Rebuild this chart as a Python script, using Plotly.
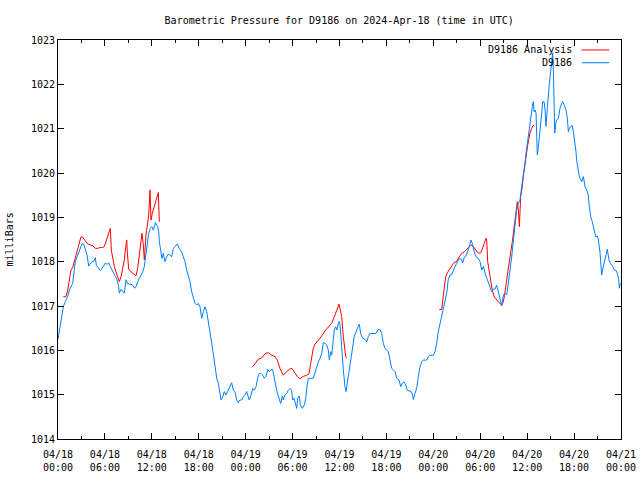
import pandas as pd
import plotly.graph_objects as go

# ---------------- data (hours since 2024-04-18 00:00 UTC, millibars) ----------------
start = pd.Timestamp("2024-04-18 00:00")

blue_hours = [
    0.00, 0.29, 0.51, 0.68, 0.93, 1.24, 1.45, 1.66, 1.88, 2.08, 2.21, 2.43, 2.65, 2.85, 3.07, 3.29,
    3.49, 3.71, 3.93, 4.13, 4.35, 4.57, 4.77, 4.90, 5.15, 5.41, 5.63, 5.84, 6.05, 6.27, 6.48, 6.69,
    6.91, 7.12, 7.33, 7.55, 7.76, 7.84, 8.06, 8.27, 8.48, 8.70, 8.91, 9.34, 9.55, 9.81, 9.98, 10.19,
    10.40, 10.61, 10.83, 11.04, 11.16, 11.34, 11.60, 11.80, 12.00, 12.20, 12.47, 12.75, 12.88, 12.96,
    13.13, 13.30, 13.47, 13.68, 13.90, 14.11, 14.32, 14.54, 14.75, 14.96, 15.26, 15.51, 15.82, 16.02,
    16.24, 16.46, 16.66, 16.88, 17.10, 17.30, 17.52, 17.74, 17.94, 18.16, 18.38, 18.58, 18.80, 19.02,
    19.22, 19.44, 19.66, 19.86, 20.08, 20.30, 20.50, 20.72, 20.85, 21.06, 21.27, 21.48, 21.70, 22.00,
    22.21, 22.42, 22.64, 22.85, 23.06, 23.28, 23.49, 23.70, 23.91, 24.13, 24.26, 24.46, 24.68, 24.90,
    25.10, 25.32, 25.54, 25.74, 25.96, 26.18, 26.38, 26.60, 26.82, 27.02, 27.24, 27.46, 27.62, 27.75,
    27.97, 28.17, 28.30, 28.48, 28.68, 28.81, 29.03, 29.25, 29.45, 29.67, 29.88, 30.01, 30.18, 30.40,
    30.53, 30.65, 30.86, 30.99, 31.24, 31.50, 31.68, 31.84, 32.01, 32.65, 32.87, 33.08, 33.29, 33.51,
    33.72, 33.93, 34.15, 34.36, 34.57, 34.70, 34.87, 35.00, 35.21, 35.34, 35.51, 35.68, 35.85, 35.98,
    36.10, 36.28, 36.49, 36.70, 36.83, 37.00, 37.22, 37.47, 37.69, 37.89, 38.20, 38.40, 38.53, 38.71,
    38.92, 39.26, 39.48, 39.69, 39.90, 40.67, 40.89, 41.18, 41.40, 41.60, 41.82, 42.04, 42.24, 42.46,
    42.68, 42.88, 43.10, 43.32, 43.61, 43.83, 44.03, 44.25, 44.47, 44.67, 44.93, 45.14, 45.36, 45.44,
    45.66, 45.87, 46.08, 46.30, 46.51, 46.72, 47.15, 47.36, 47.57, 48.00, 48.21, 48.43, 48.63, 48.85,
    49.07, 49.28, 49.49, 49.71, 49.91, 50.13, 50.35, 50.56, 50.77, 50.99, 51.19, 51.41, 51.63, 51.76,
    51.96, 52.18, 52.40, 52.60, 52.82, 53.04, 53.24, 53.46, 53.75, 53.97, 54.19, 54.40, 54.61, 54.83,
    55.03, 55.25, 55.47, 55.67, 55.89, 56.10, 56.31, 56.53, 56.75, 56.96, 57.17, 57.39, 57.59, 57.81,
    58.02, 58.23, 58.45, 58.66, 58.87, 59.08, 59.30, 59.50, 59.72, 59.85, 60.02, 60.14, 60.36, 60.49,
    60.66, 60.79, 60.88, 61.01, 61.14, 61.22, 61.30, 61.43, 61.56, 61.73, 61.86, 61.99, 62.16, 62.29,
    62.41, 62.58, 62.71, 62.84, 63.01, 63.14, 63.27, 63.35, 63.44, 63.53, 63.65, 63.78, 63.99, 64.20,
    64.42, 64.54, 64.75, 64.97, 65.14, 65.27, 65.40, 65.58, 65.74, 65.91, 66.04, 66.22, 66.35, 66.47,
    66.64, 66.76, 66.98, 67.19, 67.40, 67.62, 67.82, 67.95, 68.13, 68.33, 68.55, 68.77, 68.97, 69.10,
    69.31, 69.44, 69.53, 69.66, 69.82, 70.04, 70.25, 70.46, 70.68, 70.94, 71.14, 71.36, 71.53, 71.71,
    71.79, 71.92,
]
blue_mbar = [
    1016.25, 1016.57, 1016.84, 1016.98, 1017.10, 1017.21, 1017.36, 1017.42, 1017.51, 1017.81, 1018.00, 1018.11, 1018.22, 1018.34, 1018.40, 1018.40,
    1018.30, 1018.15, 1017.90, 1017.96, 1018.00, 1018.00, 1018.09, 1017.92, 1017.87, 1017.80, 1017.85, 1017.92, 1017.97, 1017.94, 1017.97, 1017.89,
    1017.81, 1017.72, 1017.66, 1017.59, 1017.44, 1017.29, 1017.38, 1017.34, 1017.29, 1017.59, 1017.50, 1017.49, 1017.47, 1017.40, 1017.44, 1017.55,
    1017.62, 1017.70, 1017.77, 1017.89, 1018.07, 1018.34, 1018.64, 1018.75, 1018.79, 1018.71, 1018.88, 1018.79, 1018.68, 1018.45,
    1018.22, 1018.07, 1018.19, 1018.00, 1018.11, 1018.17, 1018.15, 1018.11, 1018.30, 1018.34, 1018.40, 1018.30, 1018.22, 1018.11,
    1018.00, 1017.81, 1017.70, 1017.55, 1017.32, 1017.17, 1017.06, 1017.02, 1017.06, 1016.98, 1016.72, 1016.87, 1016.98, 1016.87,
    1016.61, 1016.38, 1016.16, 1015.93, 1015.63, 1015.37, 1015.26, 1015.07, 1014.88, 1014.95, 1015.07, 1014.99, 1015.07, 1015.18,
    1015.27, 1015.10, 1015.07, 1014.88, 1014.82, 1014.88, 1014.88, 1014.95, 1014.99, 1015.07, 1014.99, 1014.88, 1014.99, 1015.14,
    1015.10, 1015.18, 1015.37, 1015.48, 1015.48, 1015.44, 1015.37, 1015.41, 1015.57, 1015.52, 1015.56, 1015.57, 1015.41, 1015.26,
    1015.10, 1014.97, 1014.88, 1014.80, 1014.97, 1014.88, 1014.99, 1015.03, 1015.10, 1015.14, 1015.10, 1014.88, 1014.92, 1014.80,
    1014.69, 1014.92, 1014.97, 1014.77, 1014.69, 1014.77, 1014.92, 1015.18, 1015.37, 1015.37, 1015.52, 1015.63, 1015.74, 1015.82,
    1015.93, 1016.17, 1016.16, 1016.12, 1016.01, 1015.78, 1015.97, 1015.89, 1016.23, 1016.46, 1016.53, 1016.46, 1016.61, 1016.65,
    1016.53, 1015.97, 1015.56, 1015.18, 1015.07, 1015.26, 1015.52, 1015.86, 1016.12, 1016.31, 1016.46, 1016.53, 1016.59, 1016.38,
    1016.28, 1016.25, 1016.19, 1016.31, 1016.38, 1016.38, 1016.46, 1016.47, 1016.38, 1016.16, 1016.04, 1016.01, 1015.97, 1015.78,
    1015.59, 1015.56, 1015.52, 1015.37, 1015.33, 1015.18, 1015.26, 1015.29, 1015.22, 1015.10, 1015.09, 1015.07, 1014.99, 1014.89,
    1015.03, 1015.14, 1015.41, 1015.63, 1015.74, 1015.78, 1015.78, 1015.86, 1015.89, 1015.89, 1015.97, 1016.16, 1016.42, 1016.61,
    1016.72, 1016.91, 1017.10, 1017.29, 1017.60, 1017.70, 1017.71, 1017.81, 1017.89, 1017.96, 1018.04, 1018.07, 1018.04, 1017.97,
    1018.10, 1018.13, 1018.22, 1018.34, 1018.49, 1018.38, 1018.22, 1018.11, 1018.07, 1018.00, 1017.81, 1017.89, 1017.74, 1017.62,
    1017.55, 1017.44, 1017.32, 1017.38, 1017.38, 1017.47, 1017.32, 1017.13, 1017.00, 1017.25, 1017.29, 1017.25, 1017.47, 1017.81,
    1018.11, 1018.49, 1018.79, 1019.17, 1019.32, 1019.39, 1019.69, 1019.92, 1020.22, 1020.44, 1020.67, 1020.90, 1021.12, 1021.31,
    1021.50, 1021.61, 1021.38, 1021.42, 1021.35, 1020.82, 1020.41, 1020.59, 1020.78, 1021.08, 1021.35, 1021.61, 1021.61, 1021.42,
    1021.05, 1021.46, 1021.80, 1022.02, 1022.29, 1022.59, 1022.71, 1022.32, 1021.50, 1020.90, 1021.12, 1021.20, 1021.23, 1021.46,
    1021.57, 1021.61, 1021.53, 1021.42, 1021.23, 1020.93, 1021.01, 1021.05, 1021.08, 1020.93, 1020.78, 1020.52, 1020.26, 1020.07,
    1019.95, 1019.88, 1019.80, 1019.92, 1019.69, 1019.62, 1019.50, 1019.24, 1019.01, 1018.90, 1018.71, 1018.56, 1018.58, 1018.49,
    1018.22, 1017.89, 1017.70, 1017.83, 1017.96, 1018.15, 1018.28, 1018.04, 1017.95, 1017.90, 1017.81, 1017.80, 1017.74, 1017.59,
    1017.40, 1017.51,
]

# analysis series: three separate runs (None marks a gap)
red_hours = [
    0.68, 1.02, 1.24, 1.45, 1.66, 1.88, 2.08, 2.30, 2.52, 2.72, 2.94, 3.16, 3.36, 3.58, 3.80, 4.22,
    4.44, 4.77, 5.08, 5.41, 5.72, 5.92, 6.14, 6.36, 6.56, 6.69, 6.82, 7.00, 7.20, 7.42, 7.64, 7.84,
    8.06, 8.27, 8.48, 8.61, 8.79, 8.86, 9.04, 9.34, 9.55, 9.76, 9.98, 10.19, 10.40, 10.61, 10.74, 10.91,
    11.04, 11.25, 11.47, 11.60, 11.77, 11.89, 12.06, 12.28, 12.50, 12.71, 12.83, 12.96,
    None,
    24.85, 25.19, 25.62, 26.05, 26.47, 26.90, 27.33, 27.75, 28.05, 28.39, 28.81, 29.25, 29.67, 29.93,
    30.31, 30.60, 30.95, 31.37, 31.81, 32.10, 32.32, 32.65, 32.87, 33.29, 33.72, 34.15, 34.57, 35.00,
    35.30, 35.64, 35.94, 36.06, 36.28, 36.49, 36.62, 36.79, 36.92,
    None,
    48.76, 49.07, 49.20, 49.37, 49.58, 49.79, 50.04, 50.35, 50.64, 50.99, 51.32, 51.63, 51.96, 52.27,
    52.60, 52.82, 53.11, 53.46, 53.75, 54.06, 54.31, 54.52, 54.74, 54.83, 54.95, 55.16, 55.34, 55.54,
    55.80, 56.10, 56.44, 56.75, 56.96, 57.09, 57.30, 57.46, 57.68, 57.90, 58.10, 58.32, 58.45, 58.57,
    58.74, 58.87, 59.00, 59.17, 59.38, 59.50, 59.63, 59.81, 59.94, 60.07, 60.23, 60.36, 60.58, 60.71,
    60.88,
]
red_mbar = [
    1017.21, 1017.21, 1017.36, 1017.55, 1017.81, 1017.87, 1018.00, 1018.15, 1018.30, 1018.45, 1018.56, 1018.55, 1018.49, 1018.45, 1018.40, 1018.38,
    1018.36, 1018.30, 1018.30, 1018.32, 1018.32, 1018.34, 1018.45, 1018.60, 1018.71, 1018.75, 1018.26, 1018.04, 1017.89, 1017.77, 1017.66, 1017.55,
    1017.66, 1017.85, 1018.04, 1018.26, 1018.49, 1018.22, 1017.83, 1017.77, 1017.74, 1017.70, 1017.68, 1017.85, 1018.19, 1018.41, 1018.64, 1018.38,
    1018.04, 1018.60, 1018.83, 1019.05, 1019.62, 1018.94, 1019.09, 1019.24, 1019.39, 1019.50, 1019.56, 1018.90,
    None,
    1015.62, 1015.71, 1015.80, 1015.83, 1015.92, 1015.95, 1015.89, 1015.86, 1015.78, 1015.59, 1015.44, 1015.52, 1015.58, 1015.59,
    1015.49, 1015.41, 1015.36, 1015.41, 1015.44, 1015.47, 1015.71, 1016.05, 1016.14, 1016.23, 1016.32, 1016.44, 1016.52, 1016.61,
    1016.74, 1016.91, 1017.04, 1016.95, 1016.76, 1016.31, 1016.08, 1015.86, 1015.82,
    None,
    1016.92, 1016.92, 1017.13, 1017.32, 1017.66, 1017.75, 1017.83, 1017.90, 1017.98, 1018.00, 1018.11, 1018.19, 1018.22, 1018.28,
    1018.32, 1018.38, 1018.34, 1018.26, 1018.19, 1018.20, 1018.30, 1018.41, 1018.53, 1018.47, 1018.00, 1017.75, 1017.55, 1017.36,
    1017.20, 1017.13, 1017.07, 1017.02, 1017.10, 1017.23, 1017.51, 1017.74, 1017.96, 1018.22, 1018.45, 1018.75, 1019.02, 1019.17,
    1019.35, 1019.17, 1018.79, 1019.47, 1019.69, 1019.92, 1020.11, 1020.29, 1020.44, 1020.63, 1020.78, 1020.90, 1021.01, 1021.06,
    1021.08,
]

tick_hours = [0, 6, 12, 18, 24, 30, 36, 42, 48, 54, 60, 66, 72]
tick_text = ["04/18<br>00:00", "04/18<br>06:00", "04/18<br>12:00", "04/18<br>18:00",
             "04/19<br>00:00", "04/19<br>06:00", "04/19<br>12:00", "04/19<br>18:00",
             "04/20<br>00:00", "04/20<br>06:00", "04/20<br>12:00", "04/20<br>18:00",
             "04/21<br>00:00"]
y_ticks = [1014, 1015, 1016, 1017, 1018, 1019, 1020, 1021, 1022, 1023]

series_names = ["D9186 Analysis", "D9186"]
series_colors = ["#ff0000", "#0080ff"]


def to_time(hours):
    return [None if h is None else start + pd.Timedelta(hours=h) for h in hours]


FONT = "DejaVu Sans Mono"

fig = go.Figure()
fig.add_trace(go.Scatter(x=to_time(red_hours), y=red_mbar, mode="lines", name=series_names[0],
                         line=dict(color=series_colors[0], width=1), connectgaps=False,
                         showlegend=False))
fig.add_trace(go.Scatter(x=to_time(blue_hours), y=blue_mbar, mode="lines", name=series_names[1],
                         line=dict(color=series_colors[1], width=1), showlegend=False))

# gnuplot-style key: text then line sample, in top-right corner
key_rows_y = [0.975, 0.943]
for name, color, ky in zip(series_names, series_colors, key_rows_y):
    fig.add_annotation(xref="paper", yref="paper", x=0.9174, y=ky, text=name, showarrow=False,
                       xanchor="right", yanchor="middle", font=dict(family=FONT, size=10, color="black"))
    fig.add_shape(type="line", xref="paper", yref="paper", x0=0.9302, x1=0.9792, y0=ky, y1=ky,
                  line=dict(color=color, width=1))

fig.add_annotation(xref="paper", yref="paper", x=-0.0853, y=0.5, text="milliBars", textangle=-90,
                   showarrow=False, xanchor="center", yanchor="middle",
                   font=dict(family=FONT, size=10, color="black"))

fig.update_layout(
    width=640, height=480,
    margin=dict(l=58, r=19, t=40, b=41),
    paper_bgcolor="white", plot_bgcolor="white",
    font=dict(family=FONT, size=10, color="black"),
    title=dict(text="Barometric Pressure for D9186 on 2024-Apr-18 (time in UTC)",
               x=0.53, xanchor="center", y=1 - 20 / 480, yanchor="middle",
               font=dict(family=FONT, size=10, color="black")),
    showlegend=False,
)
fig.update_xaxes(
    type="date", automargin=False,
    range=[start, start + pd.Timedelta(hours=72)],
    tickvals=to_time(tick_hours), ticktext=tick_text,
    ticks="inside", ticklen=6, tickcolor="black", tickwidth=1,
    ticklabelstandoff=6,
    minor=dict(ticks="inside", ticklen=3, tickcolor="black", dtick=3 * 3600 * 1000, showgrid=False),
    showline=True, linecolor="black", linewidth=1, mirror="allticks",
    showgrid=False, zeroline=False,
    tickfont=dict(family=FONT, size=10, color="black"),
)
fig.update_yaxes(
    automargin=False,
    range=[1014, 1023],
    tickvals=y_ticks,
    ticks="inside", ticklen=6, tickcolor="black", tickwidth=1,
    showline=True, linecolor="black", linewidth=1, mirror="allticks",
    showgrid=False, zeroline=False,
    tickfont=dict(family=FONT, size=10, color="black"),
)

fig.write_html("out.html", config={"displayModeBar": False},
               post_script="document.body.style.margin='0';document.body.style.overflow='hidden';")
